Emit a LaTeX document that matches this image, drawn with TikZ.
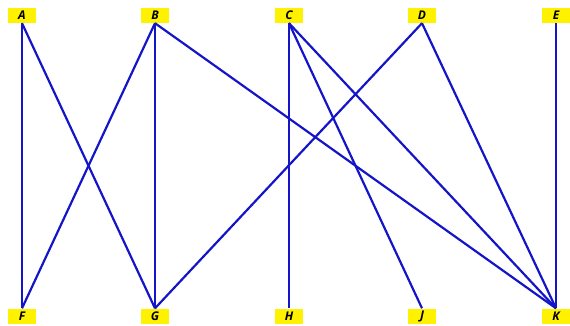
\documentclass[tikz,border=0pt]{standalone}
\usepackage{fontspec}
\setmainfont{Open Sans}
\begin{document}
\begin{tikzpicture}[x=1pt,y=-1pt,
  vbox/.style={fill=yellow, minimum width=28pt, minimum height=15pt, inner sep=0pt, font=\fontsize{12}{13}\selectfont\itshape\bfseries},
  edge/.style={draw={rgb,255:red,20;green,20;blue,200}, line width=2.2pt}]
\useasboundingbox (0,0) rectangle (570,326);
\node[vbox] (A) at (22,15.5) {A};
\node[vbox] (B) at (155,15.5) {B};
\node[vbox] (C) at (289,15.5) {C};
\node[vbox] (D) at (422,15.5) {D};
\node[vbox] (E) at (556,15.5) {E};
\node[vbox] (F) at (22,316) {F};
\node[vbox] (G) at (155,316) {G};
\node[vbox] (H) at (289,316) {H};
\node[vbox] (J) at (422,316) {J};
\node[vbox] (K) at (556,316) {K};
\draw[edge] (A.south) -- (F.north);
\draw[edge] (A.south) -- (G.north);
\draw[edge] (B.south) -- (F.north);
\draw[edge] (B.south) -- (G.north);
\draw[edge] (B.south) -- (K.north);
\draw[edge] (C.south) -- (H.north);
\draw[edge] (C.south) -- (J.north);
\draw[edge] (C.south) -- (K.north);
\draw[edge] (D.south) -- (G.north);
\draw[edge] (D.south) -- (K.north);
\draw[edge] (E.south) -- (K.north);
\end{tikzpicture}
\end{document}
